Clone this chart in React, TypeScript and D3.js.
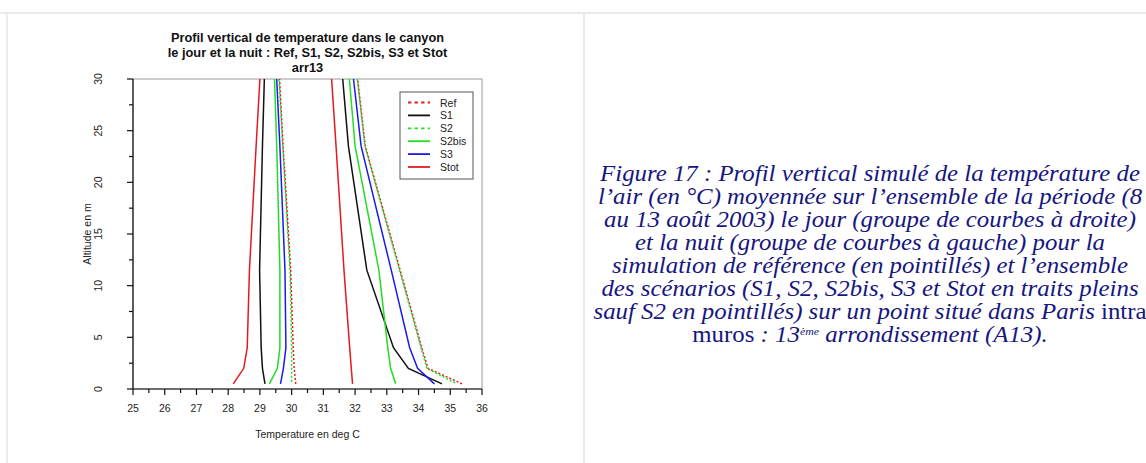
import React from "react";
import * as d3 from "d3";

// altitude levels of the model (m)
const altitudes = [0.5, 2, 4, 11.5, 23.5, 30];

// temperature (deg C) at each altitude, night group (left) and day group (right)
const refNight = [30.13, 30.08, 30.05, 29.97, 29.73, 29.62];
const refDay = [35.37, 34.3, 34.1, 33.42, 32.32, 32.08];
const s1Night = [29.16, 29.08, 29.04, 28.99, 29.08, 29.14];
const s1Day = [34.74, 33.68, 33.21, 32.37, 31.79, 31.61];
const s2Night = [30.0, 30.0, 30.0, 29.95, 29.72, 29.6];
const s2Day = [35.21, 34.26, 34.08, 33.4, 32.31, 32.07];
const s2bisNight = [29.3, 29.55, 29.63, 29.63, 29.53, 29.46];
const s2bisDay = [33.28, 33.12, 33.03, 32.75, 32.0, 31.82];
const s3Night = [29.65, 29.74, 29.82, 29.79, 29.63, 29.53];
const s3Day = [34.5, 33.97, 33.72, 33.14, 32.19, 31.95];
const stotNight = [28.16, 28.49, 28.6, 28.67, 28.88, 29.0];
const stotDay = [31.92, 31.88, 31.83, 31.65, 31.4, 31.26];

const seriesNames = ["Ref", "S1", "S2", "S2bis", "S3", "Stot"];
const xTicks = [25, 26, 27, 28, 29, 30, 31, 32, 33, 34, 35, 36];
const yTicks = [0, 5, 10, 15, 20, 25, 30];

const titleLines = [
  "Profil vertical de temperature dans le canyon",
  "le jour et la nuit : Ref, S1, S2, S2bis, S3 et Stot",
  "arr13",
];

const series = [
  { name: seriesNames[0], color: "#e01b22", dash: "2,2", offset: 0, night: refNight, day: refDay },
  { name: seriesNames[1], color: "#111111", dash: null, offset: 0, night: s1Night, day: s1Day },
  { name: seriesNames[2], color: "#22dd22", dash: "2,2", offset: 2, night: s2Night, day: s2Day },
  { name: seriesNames[3], color: "#22dd22", dash: null, offset: 0, night: s2bisNight, day: s2bisDay },
  { name: seriesNames[4], color: "#1a1aee", dash: null, offset: 0, night: s3Night, day: s3Day },
  { name: seriesNames[5], color: "#e01b22", dash: null, offset: 0, night: stotNight, day: stotDay },
];

const W = 1146;
const H = 463;
const plot = { left: 133, right: 482, top: 79, bottom: 389 };

const x = d3.scaleLinear().domain([25, 36]).range([plot.left, plot.right]);
const y = d3.scaleLinear().domain([0, 30]).range([plot.bottom, plot.top]);

const line = d3
  .line<[number, number]>()
  .x((d) => x(d[0]))
  .y((d) => y(d[1]));

const toPts = (temps: number[]) =>
  temps.map((t, i) => [t, altitudes[i]] as [number, number]);

const font = "'Liberation Sans', Arial, Helvetica, sans-serif";
const serif = "'Liberation Serif', 'Times New Roman', serif";
const navy = "#16167e";

export default function App() {
  const minorX = d3.range(25, 36.01, 0.5);
  const minorY = d3.range(0, 30.01, 2.5);
  const lineGap = 23;
  const capTop = 181;
  const yMid = (plot.top + plot.bottom) / 2;

  return (
    <svg
      width={W}
      height={H}
      style={{ position: "absolute", left: 0, top: 0, background: "#fff" }}
    >
      {/* page frame */}
      <line x1={0} x2={W} y1={13} y2={13} stroke="#e4e4e4" strokeWidth={1.5} />
      <line x1={7} x2={7} y1={13} y2={H} stroke="#e4e4e4" strokeWidth={1.5} />
      <line x1={584} x2={584} y1={13} y2={H} stroke="#e4e4e4" strokeWidth={1.5} />

      {/* title */}
      <g fontFamily={font} fontWeight="bold" fontSize={12.8} fill="#111" textAnchor="middle">
        {titleLines.map((t, i) => (
          <text key={i} x={(plot.left + plot.right) / 2} y={42 + i * 15}>
            {t}
          </text>
        ))}
      </g>

      {/* box */}
      <rect
        x={plot.left}
        y={plot.top}
        width={plot.right - plot.left}
        height={plot.bottom - plot.top}
        fill="none"
        stroke="#999"
        strokeWidth={1}
      />

      {/* curves */}
      <g fill="none" strokeWidth={1.5}>
        {series.map((s) => (
          <g key={s.name} stroke={s.color} strokeDasharray={s.dash ?? undefined} strokeDashoffset={s.offset}>
            <path d={line(toPts(s.night)) ?? ""} />
            <path d={line(toPts(s.day)) ?? ""} />
          </g>
        ))}
      </g>

      {/* axes */}
      <g stroke="#111" strokeWidth={1.2}>
        <line x1={plot.left} x2={plot.right} y1={plot.bottom} y2={plot.bottom} />
        <line x1={plot.left} x2={plot.left} y1={plot.top} y2={plot.bottom} />
        {minorX.map((v) => (
          <line key={"mx" + v} x1={x(v)} x2={x(v)} y1={plot.bottom} y2={plot.bottom + (v % 1 === 0 ? 6 : 4)} />
        ))}
        {minorY.map((v) => (
          <line key={"my" + v} x1={plot.left} x2={plot.left - (v % 5 === 0 ? 6 : 4)} y1={y(v)} y2={y(v)} />
        ))}
      </g>
      <g fontFamily={font} fontSize={10.5} fill="#222" textAnchor="middle">
        {xTicks.map((v) => (
          <text key={"xt" + v} x={x(v)} y={412}>
            {v}
          </text>
        ))}
        {yTicks.map((v) => (
          <text key={"yt" + v} x={0} y={0} transform={`translate(102, ${y(v)}) rotate(-90)`}>
            {v}
          </text>
        ))}
        <text x={(plot.left + plot.right) / 2} y={438}>
          Temperature en deg C
        </text>
        <text x={0} y={0} transform={`translate(91, ${yMid}) rotate(-90)`}>
          Altitude en m
        </text>
      </g>

      {/* legend */}
      <g>
        <rect x={400} y={92} width={73} height={87} fill="#fff" stroke="#555" strokeWidth={1} />
        {series.map((s, i) => (
          <g key={"lg" + s.name} transform={`translate(0, ${102.5 + i * 12.9})`}>
            <line
              x1={408}
              x2={430}
              stroke={s.color}
              strokeWidth={1.8}
              strokeDasharray={s.dash ? "3.3,3.3" : undefined}
            />
            <text x={440} fontFamily={font} fontSize={10.5} fill="#222" dominantBaseline="central">
              {s.name}
            </text>
          </g>
        ))}
      </g>

      {/* caption */}
      <g
        fontFamily={serif}
        fontSize={23}
        fill={navy}
        textAnchor="middle"
        transform="translate(870,0) scale(1.08,1)"
      >
        <text x={0} y={capTop + lineGap * 0} fontStyle="italic">Figure 17 : Profil vertical simulé de la température de</text>
        <text x={0} y={capTop + lineGap * 1} fontStyle="italic">l’air (en °C) moyennée sur l’ensemble de la période (8</text>
        <text x={0} y={capTop + lineGap * 2} fontStyle="italic">au 13 août 2003) le jour (groupe de courbes à droite)</text>
        <text x={0} y={capTop + lineGap * 3} fontStyle="italic">et la nuit (groupe de courbes à gauche) pour la</text>
        <text x={0} y={capTop + lineGap * 4} fontStyle="italic">simulation de référence (en pointillés) et l’ensemble</text>
        <text x={0} y={capTop + lineGap * 5} fontStyle="italic">des scénarios (S1, S2, S2bis, S3 et Stot en traits pleins</text>
        <text x={0} y={capTop + lineGap * 6}>
          <tspan fontStyle="italic">sauf S2 en pointillés) sur un point situé dans Paris </tspan>
          <tspan>intra</tspan>
        </text>
        <text x={0} y={capTop + lineGap * 7}>
          <tspan>muros</tspan>
          <tspan fontStyle="italic"> : 13</tspan>
          <tspan fontStyle="italic" fontSize={11} dy={-7}>ème</tspan>
          <tspan fontStyle="italic" dy={7}> arrondissement (A13).</tspan>
        </text>
      </g>
    </svg>
  );
}
